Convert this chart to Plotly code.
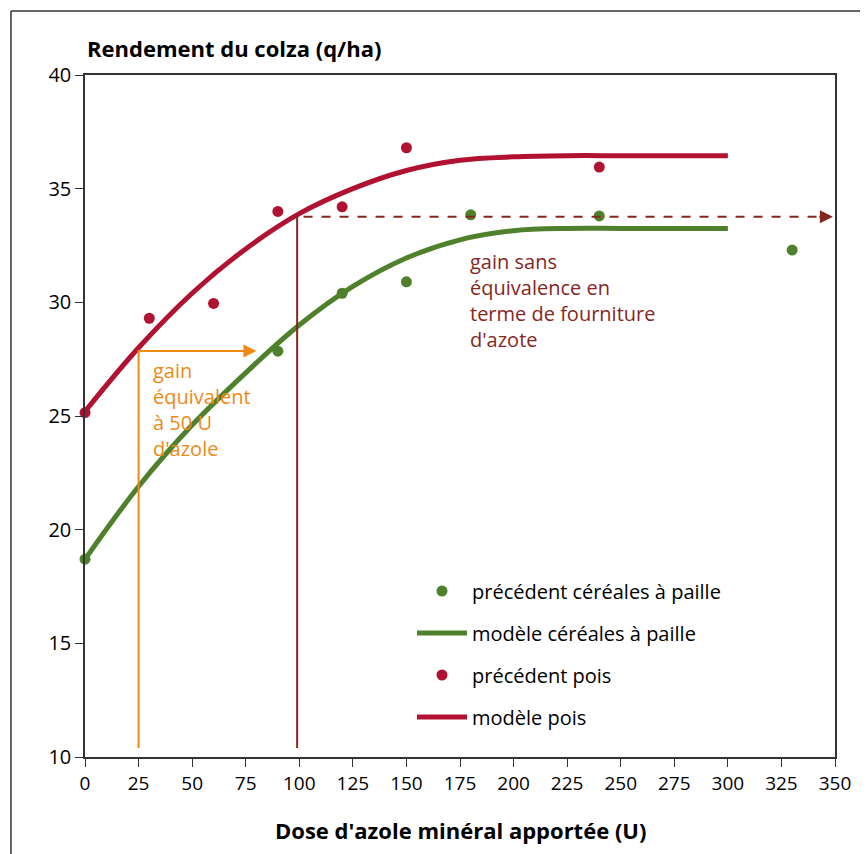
import plotly.graph_objects as go

# ---- data ----
dose_cereales = [0, 90, 120, 150, 180, 240, 330]
rdt_cereales = [18.7, 27.85, 30.4, 30.9, 33.85, 33.8, 32.3]

dose_pois = [0, 30, 60, 90, 120, 150, 240]
rdt_pois = [25.15, 29.3, 29.95, 34.0, 34.2, 36.8, 35.95]

model_dose = [0, 25, 50, 75, 100, 125, 150, 175, 200, 225, 250, 275, 300]
model_cereales = [18.7, 21.9, 24.6, 26.9, 29.0, 30.7, 31.95, 32.75, 33.15, 33.25, 33.25, 33.25, 33.25]
model_pois = [25.2, 28.0, 30.4, 32.35, 33.9, 35.0, 35.8, 36.25, 36.4, 36.45, 36.45, 36.45, 36.45]

x_ticks = list(range(0, 351, 25))
y_ticks = [10, 15, 20, 25, 30, 35, 40]

RED = "#B11232"
GREEN = "#4F802B"
BROWN = "#86261F"
ORANGE = "#EE8A14"
FONT = "Open Sans, Noto Sans, sans-serif"

fig = go.Figure()

fig.add_trace(go.Scatter(
    x=dose_cereales, y=rdt_cereales, mode="markers",
    marker=dict(color=GREEN, size=11),
    name="précédent céréales à paille", legendgroup="a", cliponaxis=False))
fig.add_trace(go.Scatter(
    x=model_dose, y=model_cereales, mode="lines",
    line=dict(color=GREEN, width=5, shape="spline"),
    name="modèle céréales à paille", legendgroup="b"))
fig.add_trace(go.Scatter(
    x=dose_pois, y=rdt_pois, mode="markers",
    marker=dict(color=RED, size=11),
    name="précédent pois", legendgroup="c", cliponaxis=False))
fig.add_trace(go.Scatter(
    x=model_dose, y=model_pois, mode="lines",
    line=dict(color=RED, width=5, shape="spline"),
    name="modèle pois", legendgroup="d"))

# orange: gain equivalent
fig.add_shape(type="path", xref="x", yref="y",
              path="M 25,10.4 L 25,27.86 L 76,27.86",
              line=dict(color=ORANGE, width=2))
fig.add_annotation(x=80, y=27.86, ax=70, ay=27.86, xref="x", yref="y",
                   axref="x", ayref="y", text="", showarrow=True,
                   arrowhead=2, arrowsize=1.3, arrowwidth=2, arrowcolor=ORANGE)
fig.add_annotation(x=31, y=27.68, xref="x", yref="y", xanchor="left", yanchor="top",
                   text="gain<br>équivalent<br>à 50 U<br>d'azole", showarrow=False,
                   align="left", font=dict(family=FONT, size=20, color=ORANGE))

# brown: gain without equivalence
fig.add_shape(type="line", xref="x", yref="y", x0=99, x1=99, y0=10.4, y1=33.85,
              line=dict(color=BROWN, width=2))
fig.add_shape(type="line", xref="x", yref="y", x0=102, x1=344, y0=33.77, y1=33.77,
              line=dict(color=BROWN, width=2, dash="dash"))
fig.add_annotation(x=349, y=33.77, ax=342, ay=33.77, xref="x", yref="y",
                   axref="x", ayref="y", text="", showarrow=True,
                   arrowhead=2, arrowsize=1.3, arrowwidth=2, arrowcolor=BROWN)
fig.add_annotation(x=178.5, y=32.49, xref="x", yref="y", xanchor="left", yanchor="top",
                   text="gain sans<br>équivalence en<br>terme de fourniture<br>d'azote",
                   showarrow=False, align="left",
                   font=dict(family=FONT, size=20, color=BROWN))

# axis titles
fig.add_annotation(x=0, y=1.04, xref="paper", yref="paper", xanchor="left", yanchor="middle",
                   text="<b>Rendement du colza (q/ha)</b>", showarrow=False,
                   font=dict(family=FONT, size=22, color="black"))
fig.add_annotation(x=0.5, y=-0.107, xref="paper", yref="paper", xanchor="center", yanchor="middle",
                   text="<b>Dose d'azole minéral apportée (U)</b>", showarrow=False,
                   font=dict(family=FONT, size=22, color="black"))

# outer frame (left and top)
fig.add_shape(type="line", xref="paper", yref="paper", x0=-0.0987, x1=-0.0987, y0=-0.2, y1=1.0938,
              line=dict(color="#333333", width=1.5))
fig.add_shape(type="line", xref="paper", yref="paper", x0=-0.0987, x1=1.1, y0=1.0938, y1=1.0938,
              line=dict(color="#333333", width=1.5))

fig.update_layout(
    width=860, height=846,
    margin=dict(l=77, r=33, t=67, b=97),
    paper_bgcolor="white", plot_bgcolor="white",
    font=dict(family=FONT, size=19, color="black"),
    showlegend=True,
    legend=dict(x=0.436, y=0.272, xanchor="left", yanchor="top",
                bgcolor="rgba(0,0,0,0)", font=dict(family=FONT, size=20, color="black"),
                traceorder="grouped", tracegroupgap=13, itemwidth=50),
)
fig.update_xaxes(range=[0, 350], tickvals=x_ticks, ticktext=[str(v) for v in x_ticks],
                 showgrid=False, zeroline=False, showline=True, linecolor="#333333",
                 linewidth=1.5, mirror=True, ticks="outside", ticklen=8, tickcolor="#333333",
                 tickfont=dict(family=FONT, size=19))
fig.update_yaxes(range=[10, 40], tickvals=y_ticks, ticktext=[str(v) for v in y_ticks],
                 showgrid=False, zeroline=False, showline=True, linecolor="#333333",
                 linewidth=1.5, mirror=True, ticks="outside", ticklen=8, tickcolor="#333333",
                 tickfont=dict(family=FONT, size=20))

fig.write_html("out.html")
